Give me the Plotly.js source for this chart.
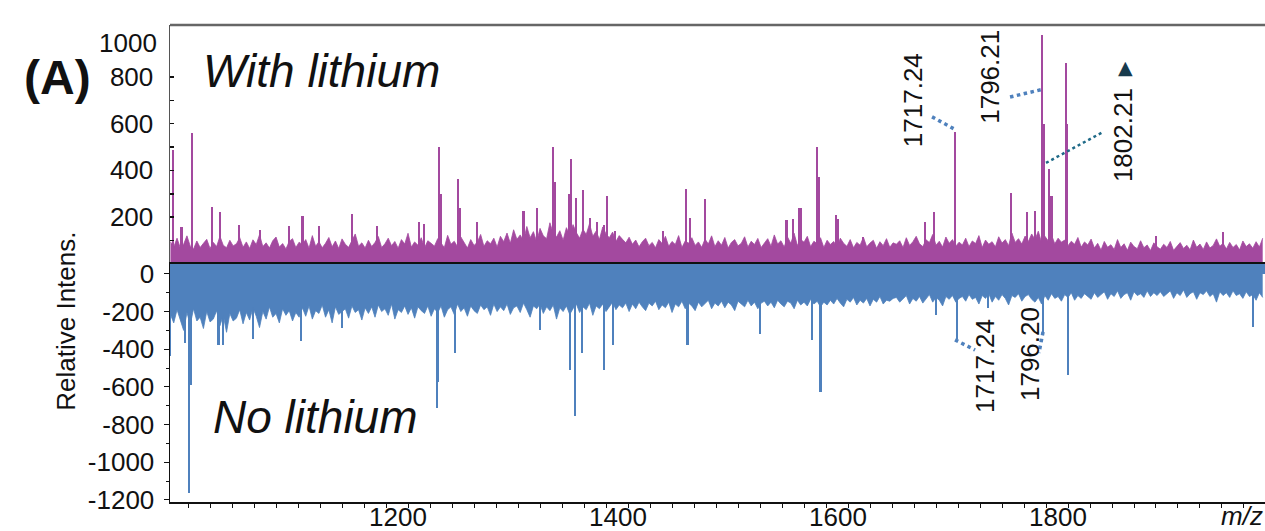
<!DOCTYPE html>
<html>
<head>
<meta charset="utf-8">
<script src="https://cdn.plot.ly/plotly-3.0.1.min.js"></script>
<style>
html,body{margin:0;padding:0;background:#fff;}
#chart{width:1265px;height:531px;}
</style>
</head>
<body>
<div id="chart"></div>
<script>
// ---------------- DATA ----------------
// baseline noise, sampled every 3 m/z starting at 1004
const noiseStart = 1004;
const noiseStep = 3;
const topNoise = [
95,72,110,68,84,120,76,64,98,70,88,105,66,92,74,118,80,69,101,77,
86,112,71,94,66,103,83,125,74,90,68,99,115,72,87,64,96,108,70,93,
82,104,67,121,75,95,69,88,113,73,98,66,107,84,71,97,128,76,90,68,
101,74,92,117,70,86,110,78,96,67,104,85,131,72,94,80,112,69,99,88,
76,108,91,70,122,84,97,73,115,89,68,104,79,93,126,75,99,86,110,72,
118,95,132,88,146,105,124,98,160,112,138,94,152,120,108,176,130,115,142,101,
155,122,168,134,110,148,126,172,118,140,104,158,128,112,136,96,121,105,90,114,
84,102,73,95,110,78,92,69,104,87,118,75,96,83,121,70,98,88,112,79,
94,71,106,85,120,74,99,80,113,68,92,104,77,88,116,72,97,83,109,70,
90,108,76,124,85,99,72,115,88,131,79,104,93,118,74,97,86,112,70,101,
83,96,72,110,88,75,104,69,92,80,114,73,89,101,67,95,78,108,71,90,
84,99,70,112,79,95,118,86,74,103,91,126,80,97,72,115,88,104,76,93,
81,110,74,98,87,121,70,102,84,95,73,116,89,104,78,132,92,108,85,119,
96,128,104,140,90,118,99,124,86,110,93,102,78,97,84,113,72,94,81,106,
68,88,59,96,71,82,62,104,70,86,58,93,74,65,99,69,81,57,90,73,
63,84,70,96,58,77,91,66,80,60,102,71,85,62,94,68,79,107,75,88,
64,92,70,83,60,98,74,86,67,95,72,110
];
const botNoise = [
-215,-260,-190,-245,-300,-205,-270,-185,-250,-230,-290,-200,-255,-240,-195,-275,-220,-310,-210,-250,
-235,-190,-265,-205,-245,-180,-225,-285,-200,-240,-175,-230,-210,-260,-185,-220,-195,-250,-205,-230,
-180,-225,-170,-240,-195,-210,-165,-230,-190,-260,-175,-215,-200,-185,-235,-170,-205,-190,-245,-180,
-210,-175,-230,-165,-200,-185,-220,-160,-240,-190,-205,-170,-215,-180,-235,-175,-195,-210,-170,-225,
-185,-205,-170,-230,-190,-175,-215,-160,-200,-180,-225,-170,-195,-210,-165,-190,-175,-220,-160,-200,
-175,-195,-160,-215,-180,-170,-205,-155,-190,-230,-170,-185,-160,-210,-175,-195,-165,-240,-180,-200,
-170,-215,-185,-160,-205,-175,-190,-155,-220,-170,-185,-160,-200,-175,-150,-190,-165,-180,-155,-200,
-160,-185,-150,-175,-195,-155,-170,-145,-190,-165,-180,-150,-205,-160,-175,-145,-185,-155,-170,-195,
-150,-175,-160,-140,-185,-155,-170,-145,-180,-150,-165,-195,-145,-160,-175,-140,-170,-150,-185,-155,
-145,-170,-150,-180,-140,-160,-175,-145,-155,-185,-140,-165,-150,-170,-135,-160,-145,-175,-150,-165,
-140,-160,-130,-155,-175,-135,-150,-125,-165,-140,-155,-130,-170,-135,-150,-120,-160,-140,-145,-130,
-125,-150,-135,-115,-160,-130,-145,-120,-155,-135,-110,-150,-125,-140,-170,-120,-135,-115,-150,-130,
-120,-145,-110,-135,-125,-160,-115,-130,-105,-150,-120,-140,-110,-130,-165,-115,-125,-105,-145,-120,
-110,-135,-150,-125,-160,-115,-140,-105,-130,-120,-145,-110,-125,-100,-140,-115,-130,-105,-120,-135,
-100,-125,-110,-95,-135,-105,-120,-90,-130,-110,-100,-140,-95,-115,-105,-125,-90,-120,-100,-115,
-95,-120,-105,-90,-130,-100,-115,-85,-125,-105,-95,-135,-100,-110,-90,-120,-105,-150,-95,-115,
-100,-125,-90,-115,-105,-130,-95,-120,-110,-140,-100,-125
];

// peaks ("With lithium")
const topPeakMz = [1006,1014,1023.6,1041.5,1049,1066.6,1085.5,1112,1124,1139,
  1169,1191.5,1230,1234.5,1248.5,1250,1265.7,1267,1283,1325,
  1337,1352,1353.5,1366,1368,1373,1379,1385.5,1392,1398,
  1401,1408,1451.5,1472.7,1476,1490,1564,1569.7,1575.7,1577.5,
  1592,1593.5,1609,1611,1633.6,1690,1698,1717.3,1767.9,1782.4,
  1790,1796.7,1797.8,1803,1805,1818,1819.3,1900,1961];
const topPeakInt = [487,159,559,245,223,166,145,163,206,163,
  215,163,181,170,499,300,363,240,178,226,
  240,499,350,298,449,281,316,196,181,165,
  292,140,140,320,198,276,188,193,240,240,
  502,370,209,190,116,181,223,566,305,223,
  225,979,600,405,290,858,600,120,138];

// peaks ("No lithium")
const botPeakMz = [1003.8,1017,1021,1022.5,1047.6,1052,1079,1122.7,1160,1246,
  1247.5,1263,1340,1367,1372,1378,1398,1406,1474,1540,
  1587,1595,1700,1718.8,1747.5,1797.6,1820,1988];
const botPeakInt = [-435,-365,-1165,-590,-377,-377,-347,-356,-289,-714,
  -572,-420,-300,-510,-755,-420,-510,-380,-380,-320,
  -350,-625,-218,-347,-183,-320,-536,-283];

// annotated peaks
const topLabelMz = [1717.24, 1796.21, 1802.21];
const botLabelMz = [1717.24, 1796.20];

// ticks
const xTickVals = [1200, 1400, 1600, 1800];
const xTickText = ["1200", "1400", "1600", "1800"];
const yTopTickVals = [100, 200, 300, 400, 500, 600, 700, 800];
const yTopTickText = ["", "200", "", "400", "", "600", "", "800"];
const yBotTickVals = [0, -200, -400, -600, -800, -1000, -1200];
const yBotTickText = ["0", "-200", "-400", "-600", "-800", "-1000", "-1200"];

// ---------------- STYLE ----------------
const PURPLE = "#A3499F";
const BLUE = "#4F81BD";
const FONT = "Liberation Sans, Arial, sans-serif";

const gridMz = topNoise.map((_, i) => noiseStart + i * noiseStep);

const traces = [
  {x: gridMz, y: topNoise, type: "scatter", mode: "lines", fill: "tozeroy",
   line: {color: PURPLE, width: 0.8}, fillcolor: PURPLE, xaxis: "x2", yaxis: "y"},
  {x: topPeakMz, y: topPeakInt, type: "bar", width: 2,
   marker: {color: PURPLE, line: {width: 0}}, xaxis: "x2", yaxis: "y"},
  {x: gridMz, y: botNoise, type: "scatter", mode: "lines", fill: "tozeroy",
   line: {color: BLUE, width: 0.8}, fillcolor: BLUE, xaxis: "x", yaxis: "y2"},
  {x: botPeakMz, y: botPeakInt, type: "bar", width: 2,
   marker: {color: BLUE, line: {width: 0}}, xaxis: "x", yaxis: "y2"}
];

const xRange = [1003.6, 1999.1];
const tickFont = {family: FONT, size: 26, color: "#111"};

const annLabel = (txt, x, y, yref, color) => ({
  text: txt, x: x, y: y, xref: "x", yref: yref, showarrow: false,
  textangle: -90, xanchor: "center", yanchor: "middle",
  font: {family: FONT, size: 26, color: color || "#111"}
});

const annotations = [
  {text: "<b>(A)</b>", xref: "paper", yref: "paper", x: -0.103, y: 0.889,
   showarrow: false, xanchor: "center", yanchor: "middle",
   font: {family: FONT, size: 48, color: "#111"}},
  {text: "<i>With lithium</i>", xref: "paper", yref: "paper", x: 0.028, y: 0.904,
   showarrow: false, xanchor: "left", yanchor: "middle",
   font: {family: FONT, size: 46, color: "#111"}},
  {text: "<i>No lithium</i>", xref: "paper", yref: "paper", x: 0.037, y: 0.178,
   showarrow: false, xanchor: "left", yanchor: "middle",
   font: {family: FONT, size: 46, color: "#111"}},
  {text: "Relative Intens.", xref: "paper", yref: "paper", x: -0.095, y: 0.38,
   showarrow: false, textangle: -90, xanchor: "center", yanchor: "middle",
   font: {family: FONT, size: 26, color: "#111"}},
  {text: "<i>m/z</i>", xref: "paper", yref: "paper", x: 0.958, y: -0.030,
   showarrow: false, xanchor: "left", yanchor: "middle",
   font: {family: FONT, size: 26, color: "#111"}},
  {text: "1000", xref: "paper", yref: "paper", x: -0.010, y: 0.962,
   showarrow: false, xanchor: "right", yanchor: "middle",
   font: tickFont},
  annLabel(topLabelMz[0].toFixed(2), 1679, 700, "y"),
  annLabel(topLabelMz[1].toFixed(2), 1749, 800, "y"),
  annLabel(topLabelMz[2].toFixed(2), 1870, 551, "y"),
  {text: "▲", x: 1872, y: 843, xref: "x", yref: "y", showarrow: false,
   xanchor: "center", yanchor: "middle",
   font: {family: "DejaVu Sans", size: 19, color: "#173A4C"}},
  annLabel(botLabelMz[0].toFixed(2), 1744.5, -489, "y2"),
  annLabel(botLabelMz[1].toFixed(2), 1785.5, -425, "y2")
];

const dotLine = (x0, y0, x1, y1, yref, color, w) => ({
  type: "line", xref: "x", yref: yref, x0: x0, y0: y0, x1: x1, y1: y1,
  line: {color: color, width: w, dash: "dot"}, layer: "above"
});

const shapes = [
  {type: "rect", xref: "x", yref: "y2", x0: xRange[0] - 10, x1: xRange[1] + 10,
   y0: 0, y1: 58, fillcolor: BLUE, line: {width: 0}, layer: "below"},
  {type: "line", xref: "paper", yref: "paper", x0: 0, x1: 1, y0: 1, y1: 1,
   line: {color: "#666", width: 2.5}},
  dotLine(1696.4, 629, 1718.2, 573, "y", BLUE, 3.5),
  dotLine(1767.3, 714, 1798.2, 748, "y", BLUE, 3.5),
  dotLine(1800, 432, 1851.8, 564, "y", "#1F6A88", 2.5),
  dotLine(1717.3, -350, 1735.5, -404, "y2", BLUE, 3.5),
  dotLine(1797.3, -308, 1793.6, -420, "y2", BLUE, 3.5)
];

const layout = {
  width: 1265, height: 531,
  margin: {l: 170, r: 0, t: 25, b: 29, pad: 0},
  paper_bgcolor: "#fff", plot_bgcolor: "rgba(0,0,0,0)",
  showlegend: false, hovermode: false, barmode: "overlay", bargap: 0,
  font: {family: FONT, color: "#111"},
  xaxis: {
    anchor: "y2", range: xRange, showgrid: false, zeroline: false,
    showline: true, linecolor: "#111", linewidth: 1.5,
    tickmode: "array", tickvals: xTickVals, ticktext: xTickText,
    ticks: "outside", ticklen: 4, tickcolor: "#111", tickwidth: 1,
    minor: {dtick: 20, tick0: 1200, ticks: "outside", ticklen: 4, tickcolor: "#111", tickwidth: 1, showgrid: false},
    tickfont: tickFont, ticklabelshift: 12, ticklabelstandoff: -13, automargin: false
  },
  xaxis2: {
    anchor: "y", matches: "x", range: xRange, showgrid: false, zeroline: false,
    showline: true, linecolor: "#111", linewidth: 2, showticklabels: false, ticks: "",
    automargin: false
  },
  yaxis: {
    domain: [0.5031, 1], range: [8, 1022], anchor: "x2",
    showgrid: false, zeroline: false, showline: true, linecolor: "#555", linewidth: 1.5,
    tickmode: "array", tickvals: yTopTickVals, ticktext: yTopTickText,
    ticks: "inside", ticklen: 4, tickcolor: "#111", tickwidth: 1.5,
    tickfont: tickFont, ticklabelstandoff: 10, automargin: false
  },
  yaxis2: {
    domain: [0, 0.5011], range: [-1211, 58], anchor: "x",
    showgrid: false, zeroline: false, showline: true, linecolor: "#111", linewidth: 1.5,
    tickmode: "array", tickvals: yBotTickVals, ticktext: yBotTickText,
    ticks: "outside", ticklen: 5, tickcolor: "#111", tickwidth: 1,
    minor: {dtick: 100, tick0: 0, ticks: "outside", ticklen: 3, tickcolor: "#111", showgrid: false},
    tickfont: tickFont, ticklabelstandoff: 4, automargin: false
  },
  annotations: annotations,
  shapes: shapes
};

Plotly.newPlot("chart", traces, layout, {staticPlot: true, displayModeBar: false});
</script>
</body>
</html>
